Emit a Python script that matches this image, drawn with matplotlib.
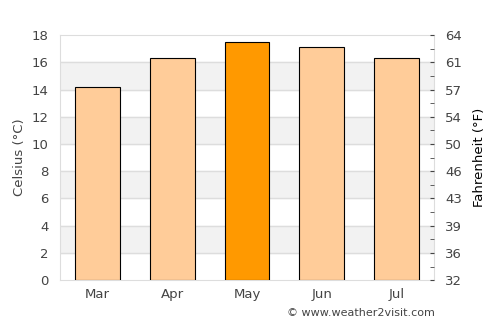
import matplotlib
matplotlib.use("Agg")
import matplotlib.pyplot as plt

months = ["Mar", "Apr", "May", "Jun", "Jul"]
celsius = [14.2, 16.3, 17.5, 17.1, 16.3]
highlight = "May"

light = "#FFCC99"
dark = "#FF9900"
text_col = "#444444"

fig = plt.figure(figsize=(5, 3.25), dpi=100)
ax = fig.add_axes([0.12, 0.138, 0.748, 0.754])

# alternating bands behind the bars
for lo in range(2, 18, 4):
    ax.axhspan(lo, lo + 2, color="#F2F2F2", zorder=0)
for y in range(2, 18, 2):
    ax.axhline(y, color="#DDDDDD", lw=1, zorder=1)

colors = [dark if m == highlight else light for m in months]
ax.bar(range(len(months)), celsius, width=0.6, color=colors,
       edgecolor="black", linewidth=0.8, zorder=3)

ax.set_xlim(-0.5, len(months) - 0.5)
ax.set_ylim(0, 18)
ax.set_yticks(range(0, 19, 2))
ax.set_xticks(range(len(months)))
ax.set_xticklabels(months)
ax.tick_params(colors=text_col, labelsize=9.5, length=0, pad=6)
ax.tick_params(axis="y", pad=8)
ax.set_ylabel("Celsius (°C)", color=text_col, fontsize=9.5)
for s in ax.spines.values():
    s.set_color("#DDDDDD")

ax2 = ax.twinx()
ax2.set_ylim(0, 18)
ticks = list(range(0, 19, 2))
ax2.set_yticks(ticks)
ax2.set_yticklabels([str(round(c * 9 / 5 + 32)) for c in ticks])
ax2.set_yticks(range(1, 18, 2), minor=True)
ax2.tick_params(axis="y", which="both", direction="in", length=3,
                color="#444444", labelcolor=text_col, labelsize=9.5, pad=8)
ax2.set_ylabel("Fahrenheit (°F)", color="black", fontsize=9.5, labelpad=8)
for s in ax2.spines.values():
    s.set_visible(False)

fig.text(0.87, 0.02, "© www.weather2visit.com", ha="right", va="bottom",
         fontsize=8, color=text_col)

fig.savefig("out.png", dpi=100)
